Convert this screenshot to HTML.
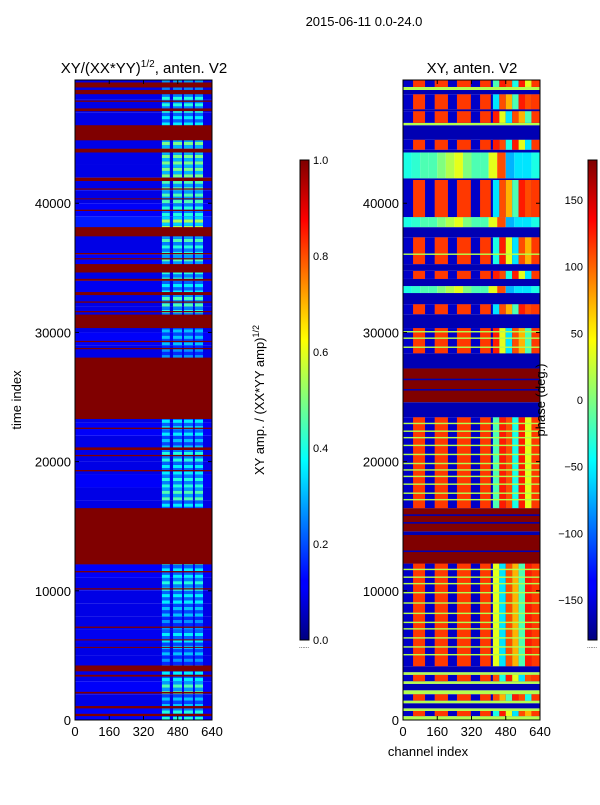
<!DOCTYPE html>
<html><head><meta charset="utf-8">
<style>
body{margin:0;background:#fff;font-family:"Liberation Sans",sans-serif;}
svg text{font-family:"Liberation Sans",sans-serif;fill:#000;}
</style></head>
<body>
<svg id="fig" width="600" height="800" viewBox="0 0 600 800" xmlns="http://www.w3.org/2000/svg">
<defs>
<linearGradient id="jet" x1="0" y1="1" x2="0" y2="0">
<stop offset="0" stop-color="#00007f"/><stop offset="0.11" stop-color="#0000ff"/><stop offset="0.125" stop-color="#0000ff"/>
<stop offset="0.34" stop-color="#00dfff"/><stop offset="0.375" stop-color="#00ffff"/><stop offset="0.5" stop-color="#7fff7f"/>
<stop offset="0.625" stop-color="#ffff00"/><stop offset="0.66" stop-color="#ffdf00"/><stop offset="0.875" stop-color="#ff0000"/><stop offset="1" stop-color="#7f0000"/>
</linearGradient>
</defs>
<text x="364" y="26" font-size="13" text-anchor="middle">2015-06-11 0.0-24.0</text>
<text x="144" y="73" font-size="15" text-anchor="middle">XY/(XX*YY)<tspan font-size="10" dy="-6">1/2</tspan><tspan dy="6">, anten. V2</tspan></text>
<text x="472" y="73" font-size="15" text-anchor="middle">XY, anten. V2</text>
<g id="leftMap"></g>
<g id="rightMap"></g>
<rect x="75" y="80" width="137" height="640" fill="none" stroke="#000" stroke-width="1"/>
<rect x="403" y="80" width="137" height="640" fill="none" stroke="#000" stroke-width="1"/>
<g id="axes"></g>
<text transform="translate(21,400) rotate(-90)" font-size="13" text-anchor="middle">time index</text>
<text x="428" y="756" font-size="13" text-anchor="middle">channel index</text>
<rect x="300" y="160" width="9" height="480" fill="url(#jet)" stroke="#000" stroke-width="1"/>
<rect x="588" y="160" width="9" height="480" fill="url(#jet)" stroke="#000" stroke-width="1"/>
<text transform="translate(264,400) rotate(-90)" font-size="13" text-anchor="middle">XY amp. / (XX*YY amp)<tspan font-size="9" dy="-5">1/2</tspan></text>
<text transform="translate(545,400) rotate(-90)" font-size="13" text-anchor="middle">phase (deg.)</text>
<text x="299" y="648" font-size="6" fill="#888">......</text>
<text x="587" y="648" font-size="6" fill="#888">......</text>
</svg>
<script>
// ---- data ----
const yTicks = [0, 10000, 20000, 30000, 40000];
const yMax = 49540;
const xTicks = [0, 160, 320, 480, 640];
const ampTicks = [0.0, 0.2, 0.4, 0.6, 0.8, 1.0];
const phaseTicks = [-150, -100, -50, 0, 50, 100, 150];
// left: flagged time ranges
const leftFlags = [[300,480],[900,1080],[2050,2180],[3360,3500],[3770,4220],[5580,5660],[6160,6240],[7130,7230],[10100,10200],[11430,11530],[12050,16400],[19250,19350],[20420,20520],[20900,21100],[22530,22630],[23300,28050],[28700,28800],[29250,29350],[30340,31380],[31560,31660],[32300,32400],[32890,33125],[34000,34150],[34640,35290],[35650,35750],[36050,36150],[37440,38150],[39400,39500],[40300,40380],[41050,41150],[41720,41980],[43930,44220],[44870,46040],[47130,47340],[47850,47950],[48440,48770],[48960,49350]];
// left stripe intensity per 1000 time units (0..49k)
const leftStripe = [0.45,0.35,0.5,0.4,0.3,0.35,0.4,0.3,0.35,0.4,0.45,0.4,0.4,0.4,0.4,0.4,0.4,0.5,0.45,0.4,0.45,0.35,0.4,0.4,0.4,0.4,0.4,0.4,0.3,0.35,0.35,0.45,0.5,0.4,0.45,0.5,0.45,0.5,0.6,0.45,0.5,0.5,0.55,0.55,0.55,0.4,0.4,0.45,0.45,0.5];
const leftBg = [0.12,0.1,0.12,0.1,0.1,0.1,0.11,0.1,0.1,0.1,0.1,0.12,0.1,0.1,0.1,0.1,0.1,0.1,0.12,0.1,0.1,0.1,0.12,0.1,0.1,0.1,0.1,0.1,0.1,0.12,0.1,0.1,0.1,0.11,0.1,0.12,0.1,0.1,0.15,0.12,0.1,0.1,0.1,0.1,0.1,0.1,0.1,0.1,0.1,0.1];
const leftStripeCols = [[406,443],[458,500],[509,551],[560,598]];
// right: bands [t0,t1,type] d=data b=blank f=flag g=green n=noise
const rightBands = [[0,300,'g'],[300,700,'d'],[700,900,'g'],[900,1300,'b'],[1300,1500,'g'],[1500,2000,'d'],[2000,2300,'g'],[2300,2800,'b'],[2800,3000,'g'],[3000,3500,'d'],[3500,3700,'g'],[3700,4160,'b'],[4160,12110,'d'],[12110,14320,'f'],[14320,14600,'b'],[14600,16400,'f'],[16400,23440,'d'],[23440,24600,'b'],[24600,27210,'f'],[27210,28380,'b'],[28380,30340,'d'],[30340,31410,'b'],[31410,32190,'d'],[32190,33050,'b'],[33050,33590,'n'],[33590,34140,'b'],[34140,34770,'d'],[34770,35290,'b'],[35290,37370,'d'],[37370,38150,'b'],[38150,38930,'n'],[38930,41800,'d'],[41800,41930,'b'],[41930,43930,'n'],[43930,44140,'b'],[44140,44920,'d'],[44920,46040,'b'],[46040,46220,'g'],[46220,47130,'d'],[47130,47270,'b'],[47270,48440,'d'],[48440,48770,'b'],[48770,49000,'g'],[49000,50000,'d']];
const rightGreenLines = [5000,5600,6300,7000,7500,8200,9000,9800,10500,11000,11600,17000,17500,18200,18800,19300,19800,20500,21200,21800,22300,22900,28800,29500,30000,36000];
const rightBlueLines = [13000,15200,15800,25500,26300];
const rightRedCols = [[47,103],[148,210],[252,317],[360,410],[600,640]];
const rightMix = [0.8,0.4,0.85,0.6,0.35,0.8,0.7,0.45,0.85];
const rightNoise = [0.4,0.42,0.45,0.45,0.5,0.55,0.6,0.5,0.45,0.45,0.6,0.8,0.3,0.35,0.35,0.4];

// ---- helpers ----
function jet(v){
  v=Math.max(0,Math.min(1,v));
  const r=Math.max(0,Math.min(1,1.5-Math.abs(4*v-3)));
  const g=Math.max(0,Math.min(1,1.5-Math.abs(4*v-2)));
  const b=Math.max(0,Math.min(1,1.5-Math.abs(4*v-1)));
  return `rgb(${Math.round(r*255)},${Math.round(g*255)},${Math.round(b*255)})`;
}
const NS='http://www.w3.org/2000/svg';
function yT(t){return Math.max(80, 720 - t/yMax*640);}
function xC(x0,ch){return x0 + ch/640*137;}
function cell(g,x,y,w,h,v,name){
  const r=document.createElementNS(NS,'rect');
  r.setAttribute('x',x);r.setAttribute('y',y);r.setAttribute('width',w);r.setAttribute('height',Math.max(h,0.6));
  r.setAttribute('fill',jet(v));
  
  
  g.appendChild(r);
}
// ---- left heatmap ----
const L=document.getElementById('leftMap');
for(let i=0;i<leftStripe.length;i++){
  const t0=i*1000,t1=Math.min(50000,(i+1)*1000);
  cell(L,75,yT(t1),137,yT(t0)-yT(t1),leftBg[i],'left-row-bg');
  for(let k=0;k<4;k++){
    const s0=t0+k*250,s1=s0+250;
    const v=leftStripe[i]*(k%2?0.55:0.9);
    leftStripeCols.forEach(c=>cell(L,xC(75,c[0]),yT(s1),xC(75,c[1])-xC(75,c[0]),yT(s0)-yT(s1),v,'left-stripe-cell'));
  }
}
leftFlags.forEach(f=>cell(L,75,yT(f[1]),137,yT(f[0])-yT(f[1]),1.0,'left-flag-band'));
// ---- right heatmap ----
const R=document.getElementById('rightMap');
rightBands.forEach((b,bi)=>{
  const y=yT(b[1]),h=yT(b[0])-yT(b[1]);
  if(b[2]==='b') cell(R,403,y,137,h,0.05,'right-blank-band');
  else if(b[2]==='f') cell(R,403,y,137,h,1.0,'right-flag-band');
  else if(b[2]==='g') cell(R,403,y,137,h,0.55,'right-line-band');
  else if(b[2]==='n'){
    rightNoise.forEach((v,j)=>cell(R,xC(403,j*40),y,xC(403,40)-xC(403,0),h,v,'right-noise-cell'));
  } else {
    cell(R,403,y,137,h,0.07,'right-data-bg');
    rightRedCols.forEach(c=>cell(R,xC(403,c[0]),y,xC(403,c[1])-xC(403,c[0]),h,0.82,'right-red-stripe'));
    for(let j=0;j<6;j++){
      const v=rightMix[(bi+j)%rightMix.length];
      cell(R,xC(403,420+j*30),y,xC(403,30)-xC(403,0),h,v,'right-mix-cell');
    }
  }
});
rightGreenLines.forEach(t=>cell(R,403,yT(t+110),137,yT(t)-yT(t+110),0.55,'right-green-line'));
rightBlueLines.forEach(t=>cell(R,403,yT(t+120),137,yT(t)-yT(t+120),0.05,'right-blue-line'));
// ---- axes ----
const A=document.getElementById('axes');
function txt(x,y,s,anchor,name,fs){
  const e=document.createElementNS(NS,'text');
  e.setAttribute('x',x);e.setAttribute('y',y);e.setAttribute('font-size',fs||'13');e.setAttribute('text-anchor',anchor);
  e.textContent=s;
  
  
  A.appendChild(e);
}
function tick(x1,y1,x2,y2){
  const l=document.createElementNS(NS,'line');
  l.setAttribute('x1',x1);l.setAttribute('y1',y1);l.setAttribute('x2',x2);l.setAttribute('y2',y2);l.setAttribute('stroke','#000');
  
  
  A.appendChild(l);
}
[75,403].forEach(x0=>{
  yTicks.forEach(t=>{tick(x0,yT(t),x0+4,yT(t));tick(x0+137,yT(t),x0+133,yT(t));txt(x0-4,yT(t)+5,String(t),'end','y-tick-label');});
  xTicks.forEach(c=>{tick(xC(x0,c),720,xC(x0,c),716);tick(xC(x0,c),80,xC(x0,c),84);txt(xC(x0,c),736,String(c),'middle','x-tick-label');});
});
ampTicks.forEach(v=>{const y=640-v*480;tick(300,y,303,y);tick(309,y,306,y);
  txt(313,y+4,v.toFixed(1),'start','amp-tick-label','11');});
phaseTicks.forEach(v=>{const y=640-(v+180)/360*480;tick(588,y,591,y);tick(597,y,594,y);
  txt(583,y+4,v<0?'\u2212'+Math.abs(v):String(v),'end','phase-tick-label','11');});
</script>
</body></html>
